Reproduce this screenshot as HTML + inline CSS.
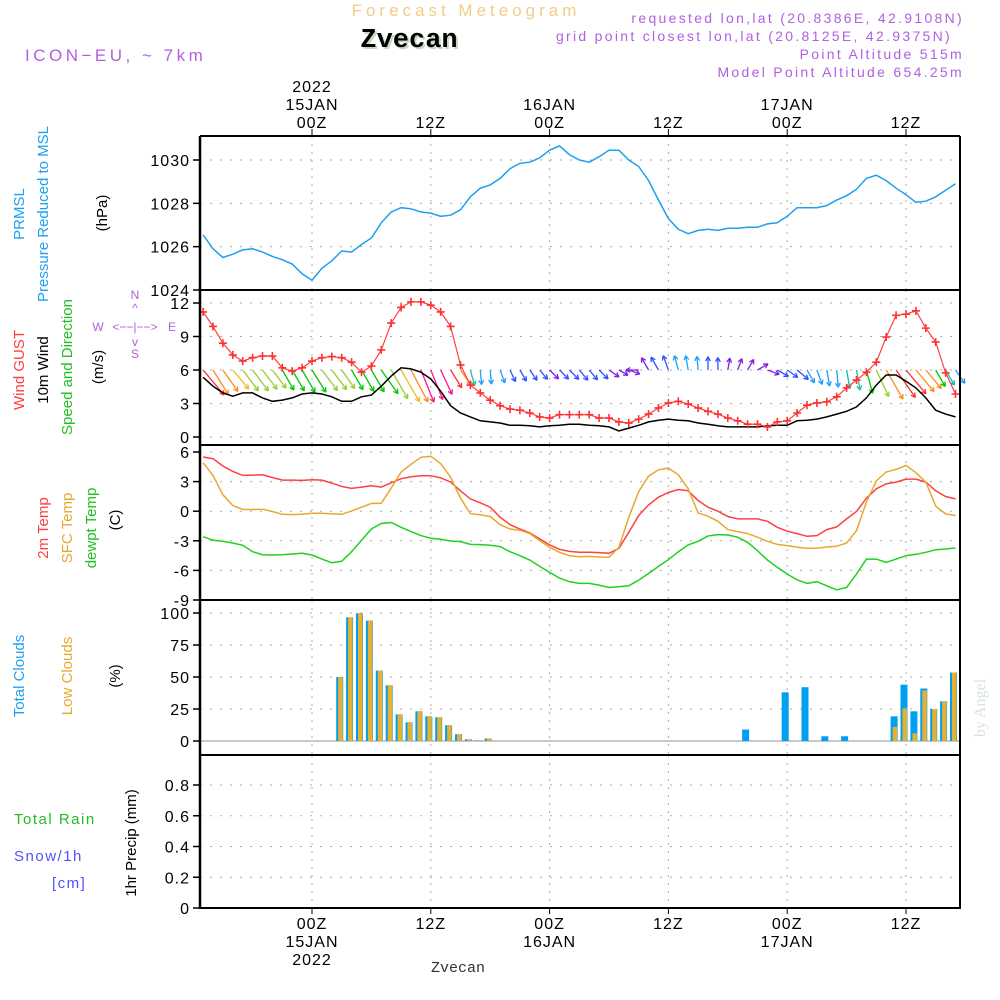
<!DOCTYPE html>
<html><head><meta charset="utf-8"><style>
html,body{margin:0;padding:0;background:#fff;}
svg{display:block;font-family:"Liberation Sans",sans-serif;}
.mono{font-family:"Liberation Mono",monospace;}
</style></head><body>
<svg id="chart" width="1000" height="1000" viewBox="0 0 1000 1000" xmlns="http://www.w3.org/2000/svg">
<text x="466" y="16" text-anchor="middle" font-size="17" fill="#f2cc88" letter-spacing="4">Forecast Meteogram</text>
<text class="mono" x="411" y="49" text-anchor="middle" font-size="27" font-weight="bold" fill="#c8d8c0">Zvecan</text>
<text class="mono" x="409" y="47" text-anchor="middle" font-size="27" font-weight="bold" fill="#000">Zvecan</text>
<text x="25" y="61" font-size="17" fill="#b060e0" letter-spacing="3.5">ICON−EU, ~ 7km</text>
<g font-size="14" fill="#b060e0" text-anchor="end" letter-spacing="2.3">
<text x="964" y="23">requested lon,lat (20.8386E, 42.9108N)</text>
<text x="952" y="41">grid point closest lon,lat (20.8125E, 42.9375N)</text>
<text x="964" y="59">Point Altitude 515m</text>
<text x="964" y="77">Model Point Altitude 654.25m</text>
</g>
<g font-size="15">
<text transform="translate(24,214) rotate(-90)" text-anchor="middle" fill="#1ea0f0">PRMSL</text>
<text transform="translate(48,214) rotate(-90)" text-anchor="middle" fill="#1ea0f0">Pressure Reduced to MSL</text>
<text transform="translate(107,213) rotate(-90)" text-anchor="middle" fill="#000">(hPa)</text>
<text transform="translate(24,370) rotate(-90)" text-anchor="middle" fill="#ff4040">Wind GUST</text>
<text transform="translate(48,370) rotate(-90)" text-anchor="middle" fill="#000">10m Wind</text>
<text transform="translate(72,367) rotate(-90)" text-anchor="middle" fill="#20c020">Speed and Direction</text>
<text transform="translate(103,367) rotate(-90)" text-anchor="middle" fill="#000">(m/s)</text>
<text transform="translate(48,528) rotate(-90)" text-anchor="middle" fill="#ff4040">2m Temp</text>
<text transform="translate(72,528) rotate(-90)" text-anchor="middle" fill="#e8a830">SFC Temp</text>
<text transform="translate(96,528) rotate(-90)" text-anchor="middle" fill="#20c020">dewpt Temp</text>
<text transform="translate(120,520) rotate(-90)" text-anchor="middle" fill="#000">(C)</text>
<text transform="translate(24,676) rotate(-90)" text-anchor="middle" fill="#1ea0f0">Total Clouds</text>
<text transform="translate(72,676) rotate(-90)" text-anchor="middle" fill="#e8a830">Low Clouds</text>
<text transform="translate(120,676) rotate(-90)" text-anchor="middle" fill="#000">(%)</text>
<text x="14" y="824" fill="#20c020" letter-spacing="1.5">Total  Rain</text>
<text x="14" y="861" fill="#5050ff" letter-spacing="1.5">Snow/1h</text>
<text x="52" y="888" fill="#5050ff" letter-spacing="1.5">[cm]</text>
<text transform="translate(136,843) rotate(-90)" text-anchor="middle" fill="#000">1hr Precip (mm)</text>
</g>
<g fill="#b060e0" font-size="12" stroke="none">
<text x="135" y="299" text-anchor="middle">N</text>
<text x="135" y="312" text-anchor="middle">^</text>
<text x="135" y="331" text-anchor="middle">&lt;−−|−−&gt;</text>
<text x="98" y="331" text-anchor="middle">W</text>
<text x="172" y="331" text-anchor="middle">E</text>
<text x="135" y="346" text-anchor="middle">v</text>
<text x="135" y="358" text-anchor="middle">S</text>
</g>
<text transform="translate(985,708) rotate(-90)" text-anchor="middle" font-size="16" font-family="Liberation Serif, serif" fill="#d8e4d8">by Angel</text>
<text class="mono" x="458" y="972" text-anchor="middle" font-size="15" fill="#333">Zvecan</text>
<g id="plot"></g>
</svg>
<script>
const hours=[];for(let h=-11;h<=65;h++)hours.push(h);
const pressure=[1026.55,1025.9,1025.5,1025.65,1025.85,1025.9,1025.75,1025.55,1025.4,1025.2,1024.75,1024.45,1025.0,1025.35,1025.8,1025.75,1026.1,1026.4,1027.1,1027.6,1027.8,1027.75,1027.6,1027.55,1027.4,1027.45,1027.7,1028.3,1028.7,1028.85,1029.15,1029.6,1029.85,1029.9,1030.1,1030.45,1030.65,1030.25,1030.0,1029.9,1030.15,1030.45,1030.45,1030.0,1029.7,1029.05,1028.15,1027.3,1026.8,1026.6,1026.75,1026.8,1026.75,1026.85,1026.85,1026.9,1026.9,1027.05,1027.1,1027.4,1027.8,1027.8,1027.8,1027.9,1028.15,1028.35,1028.65,1029.15,1029.3,1029.05,1028.7,1028.4,1028.05,1028.1,1028.3,1028.6,1028.9];
const gust=[11.2,9.9,8.4,7.35,6.8,7.1,7.25,7.25,6.2,5.9,6.2,6.8,7.1,7.2,7.1,6.7,5.8,6.35,7.8,10.2,11.6,12.1,12.1,11.8,11.2,9.9,6.45,4.65,3.95,3.3,2.8,2.5,2.4,2.15,1.8,1.7,2.0,2.0,2.0,2.0,1.7,1.7,1.35,1.25,1.6,2.05,2.6,3.05,3.2,2.95,2.6,2.3,2.05,1.7,1.45,1.15,1.15,0.9,1.35,1.45,2.15,2.85,3.05,3.15,3.6,4.4,5.1,5.8,6.7,8.95,10.9,11.0,11.3,9.75,8.5,5.75,3.85];
const wspeed=[5.35,4.55,3.95,3.65,3.95,3.95,3.5,3.2,3.3,3.5,3.85,3.95,3.85,3.6,3.2,3.2,3.6,3.75,4.55,5.45,6.2,6.1,5.8,5.2,4.1,2.8,2.15,1.8,1.45,1.35,1.25,1.05,1.05,1.0,0.9,1.0,1.05,1.15,1.15,1.05,1.0,0.9,0.55,0.8,1.05,1.35,1.5,1.6,1.5,1.45,1.25,1.15,1.0,0.9,0.9,0.9,0.9,1.0,1.05,1.05,1.45,1.5,1.6,1.8,2.05,2.3,2.7,3.5,4.65,5.55,5.55,5.0,4.4,3.5,2.4,2.05,1.8];
const wdir=[50,58,55,50,53,53,53,53,60,60,60,58,53,53,55,60,60,60,55,60,60,62,68,68,65,58,55,75,85,85,70,65,60,55,50,45,45,45,50,50,45,35,30,20,180,-120,-120,-110,-105,-100,-95,-90,-90,-80,-70,-60,-30,20,30,35,40,60,70,80,85,80,80,75,65,60,55,50,50,50,60,60,55];
const wcolor=["red","orange","orange","gold","yg","yg","yg","yg","green","green","green","green","yg","yg","yg","green","green","green","green","yg","gold","orange","magenta","magenta","magenta","red","orange","teal","sky","sky","sky","blue","blue","blue","blue","purple","blue","blue","blue","blue","blue","purple","purple","purple","purple","purple","blue","blue","sky","sky","sky","blue","blue","purple","purple","purple","purple","purple","blue","blue","blue","sky","sky","sky","sky","cyan","teal","green","yg","orange","red","red","orange","orange","green","cyan","sky"];
const t2m=[5.49,5.32,4.58,4.03,3.63,3.66,3.69,3.42,3.15,3.15,3.12,3.19,3.15,2.85,2.51,2.31,2.44,2.58,2.44,2.88,3.29,3.49,3.59,3.59,3.39,2.95,2.07,1.25,0.85,0.41,-0.61,-1.36,-1.8,-2.2,-2.81,-3.42,-3.86,-4.07,-4.17,-4.17,-4.2,-4.27,-3.76,-2.14,-0.44,0.64,1.42,1.9,2.2,2.07,1.08,0.41,0.0,-0.54,-0.78,-0.78,-0.78,-1.02,-1.63,-2.03,-2.27,-2.54,-2.47,-1.86,-1.59,-0.78,-0.03,1.32,2.27,2.78,2.95,3.25,3.25,2.95,2.07,1.49,1.25];
const tsfc=[4.92,3.63,1.66,0.58,0.17,0.17,0.2,-0.03,-0.31,-0.34,-0.31,-0.2,-0.2,-0.27,-0.31,0.03,0.41,0.78,0.81,2.34,3.97,4.75,5.46,5.56,4.81,3.46,1.32,-0.24,-0.37,-0.54,-1.36,-1.8,-1.93,-2.27,-2.98,-3.66,-4.17,-4.51,-4.61,-4.58,-4.64,-4.68,-3.66,-0.61,2.0,3.56,4.2,4.37,3.69,2.27,-0.17,-0.51,-1.02,-1.86,-2.07,-2.27,-2.64,-3.05,-3.36,-3.49,-3.66,-3.76,-3.76,-3.63,-3.56,-3.22,-1.97,0.92,3.08,3.97,4.24,4.64,3.9,2.95,0.51,-0.27,-0.44];
const tdew=[-2.58,-2.95,-3.05,-3.22,-3.46,-4.1,-4.41,-4.44,-4.41,-4.34,-4.27,-4.44,-4.85,-5.22,-5.08,-4.1,-2.95,-1.8,-1.25,-1.15,-1.63,-2.07,-2.47,-2.75,-2.85,-3.02,-3.08,-3.36,-3.39,-3.46,-3.59,-4.1,-4.51,-4.95,-5.59,-6.2,-6.78,-7.15,-7.32,-7.32,-7.49,-7.73,-7.66,-7.56,-6.98,-6.31,-5.59,-4.92,-4.1,-3.42,-3.05,-2.51,-2.37,-2.41,-2.64,-3.15,-4.0,-4.95,-5.69,-6.37,-6.95,-7.32,-7.15,-7.56,-7.97,-7.73,-6.37,-4.85,-4.85,-5.19,-4.85,-4.51,-4.37,-4.17,-3.9,-3.83,-3.73];
const cloudHours=[3,4,5,6,7,8,9,10,11,12,13,14,15,16,17,18,44,48,50,52,54,59,60,61,62,63,64,65];
const cloudTotal=[50,96.6,99.8,94,55,43.5,20.8,14.6,23.2,19.3,18.5,12.3,5.3,1.3,0.5,2,9,38,42,3.7,3.7,19.3,44,23.2,41,25,31,53.5];
const cloudLow=[50,96.6,99.8,94,55,43.5,20.8,14.6,23.2,19.3,18.5,12.3,5.3,1.3,0.5,2,0,0,0,0,0,11,25.5,6,39.5,25,31,53.5];
const precip=hours.map(()=>0);
const pTicks=[1024,1026,1028,1030], wTicks=[0,3,6,9,12], tTicks=[-9,-6,-3,0,3,6], cTicks=[0,25,50,75,100], rTicks=[0,0.2,0.4,0.6,0.8];
const timeTicks=[0,12,24,36,48,60];
const timeLabels=["00Z","12Z","00Z","12Z","00Z","12Z"];
const dayLabels=["15JAN","","16JAN","","17JAN",""];

const COL={red:"#ff3030",orange:"#ff8c1a",gold:"#e8c020",yg:"#9acd32",green:"#00c800",magenta:"#ff1493",teal:"#20c0a0",cyan:"#00c0c0",sky:"#1ea0ff",blue:"#3050ff",purple:"#8020e0"};
const NS="http://www.w3.org/2000/svg";
const plot=document.getElementById('plot');
const X0=200,X1=960;
const x=h=>312+h*9.9;
function lin(v0,v1,y0,y1){return v=>y0+(v-v0)*(y1-y0)/(v1-v0);}
const yP=lin(1024,1030,290,160), yW=lin(0,12,437,303), yT=lin(-9,6,600,452), yC=lin(0,100,741,613), yR=lin(0,0.8,908,785);
function el(t,a,p){const e=document.createElementNS(NS,t);for(const k in a)e.setAttribute(k,a[k]);(p||plot).appendChild(e);return e;}
const panels=[[136,290,yP,pTicks,v=>String(v),'pressure'],[290,445,yW,wTicks,v=>String(v),'wind'],[445,600,yT,tTicks,v=>String(v),'temperature'],[600,755,yC,cTicks,v=>String(v),'clouds'],[755,908,yR,rTicks,v=>v===0?'0':v.toFixed(1),'precip']];
panels.forEach(([top,bot,ys,ticks,fmt,nm])=>{
  const g=el('g',{});
  
  
  timeTicks.forEach(h=>{const l=el('line',{x1:x(h),x2:x(h),y1:top,y2:bot,stroke:'#aaa','stroke-dasharray':'2,6'},g);
    });
  ticks.forEach(v=>{const yy=ys(v);
    if(yy>top+2&&yy<bot-2){const l=el('line',{x1:X0,x2:X1,y1:yy,y2:yy,stroke:'#aaa','stroke-dasharray':'2,8'},g);
      }
    el('line',{x1:193,x2:X0,y1:yy,y2:yy,stroke:'#000','stroke-width':1.5},g);
    const t=el('text',{x:190,y:yy+6,'text-anchor':'end','font-size':16,fill:'#000','letter-spacing':1},g);t.textContent=fmt(v);
    
  });
});
function path(vals,ys,color,name,w){const d=vals.map((v,i)=>(i?'L':'M')+x(hours[i]).toFixed(1)+','+ys(v).toFixed(1)).join('');
  const p=el('path',{d:d,fill:'none',stroke:color,'stroke-width':w||1.5});return p;}
path(pressure,yP,'#1ea0f0','pressure-line');
wdir.forEach((a,i)=>{const sx=x(hours[i]),sy=yW(6);const L=8+4.6*wspeed[i];const r=a*Math.PI/180;
  const ex=sx+L*Math.cos(r),ey=sy+L*Math.sin(r);const c=COL[wcolor[i]];
  const g=el('g',{stroke:c,'stroke-width':1.3,fill:'none'});
  
  el('line',{x1:sx,y1:sy,x2:ex,y2:ey},g);
  const hl=5;[r+Math.PI-0.5,r+Math.PI+0.5].forEach(b=>el('line',{x1:ex,y1:ey,x2:ex+hl*Math.cos(b),y2:ey+hl*Math.sin(b)},g));
});
path(wspeed,yW,'#000','wind-speed-line');
path(gust,yW,'#ff4040','gust-line',1.2);
gust.forEach((v,i)=>{const cx=x(hours[i]),cy=yW(v);
  const p=el('path',{d:`M${cx-4},${cy}H${cx+4}M${cx},${cy-4}V${cy+4}`,stroke:'#ff3030','stroke-width':1.6});
  });
path(t2m,yT,'#ff4040','temp-2m-line');
path(tsfc,yT,'#e8a830','temp-sfc-line');
path(tdew,yT,'#20d020','dewpoint-line');
el('line',{x1:X0,x2:X1,y1:yC(0),y2:yC(0),stroke:'#b0b8c0','stroke-width':1.5});
cloudHours.forEach((h,i)=>{const cx=x(h)-2;
  const r=el('rect',{x:cx-3.5,y:yC(cloudTotal[i]),width:7,height:yC(0)-yC(cloudTotal[i]),fill:'#00a0f0'});
  
  if(cloudLow[i]>0){const q=el('rect',{x:cx-1.5,y:yC(cloudLow[i]),width:4.5,height:yC(0)-yC(cloudLow[i]),fill:'#e8b030'});
  }
});
const pp=path(precip,yR,'#000','precip-line',1.5);pp.setAttribute('stroke-dasharray','4,2');
[136,290,445,600,755,908].forEach((yy,i)=>el('line',{x1:X0,x2:X1,y1:yy,y2:yy,stroke:'#000','stroke-width':2}));
el('line',{x1:X0,x2:X0,y1:136,y2:909,stroke:'#000','stroke-width':2.5});
el('line',{x1:X1,x2:X1,y1:136,y2:909,stroke:'#000','stroke-width':2});
timeTicks.forEach((h,i)=>{const xx=x(h);
  el('line',{x1:xx,x2:xx,y1:129,y2:136,stroke:'#000'});
  el('line',{x1:xx,x2:xx,y1:908,y2:914,stroke:'#000'});
  const a=el('text',{x:xx,y:128,'text-anchor':'middle','font-size':16,fill:'#000','letter-spacing':1});a.textContent=timeLabels[i];
  
  const b=el('text',{x:xx,y:929,'text-anchor':'middle','font-size':16,fill:'#000','letter-spacing':1});b.textContent=timeLabels[i];
  
  if(dayLabels[i]){const c=el('text',{x:xx,y:110,'text-anchor':'middle','font-size':16,fill:'#000','letter-spacing':1});c.textContent=dayLabels[i];
    
    const d=el('text',{x:xx,y:947,'text-anchor':'middle','font-size':16,fill:'#000','letter-spacing':1});d.textContent=dayLabels[i];
    }
});
const y1=el('text',{x:x(0),y:92,'text-anchor':'middle','font-size':16,fill:'#000','letter-spacing':1});y1.textContent='2022';

const y2=el('text',{x:x(0),y:965,'text-anchor':'middle','font-size':16,fill:'#000','letter-spacing':1});y2.textContent='2022';

</script>
</body></html>
